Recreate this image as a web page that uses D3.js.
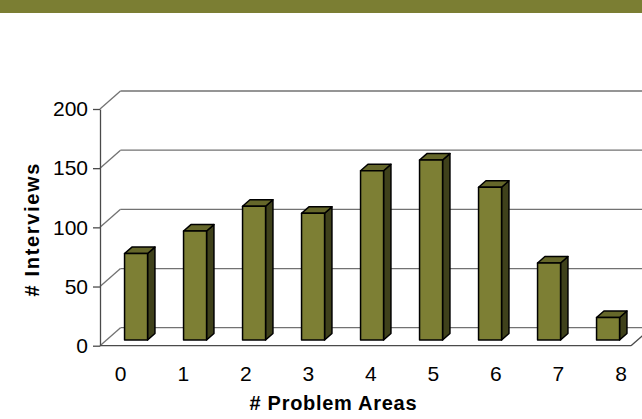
<!DOCTYPE html>
<html>
<head>
<meta charset="utf-8">
<script src="https://cdn.jsdelivr.net/npm/d3@7/dist/d3.min.js"></script>
<style>
  html, body { margin: 0; padding: 0; background: #ffffff; }
  svg { display: block; }
  text { font-family: "Liberation Sans", Arial, sans-serif; fill: #000; }
</style>
</head>
<body>
<svg id="chart" width="642" height="419"></svg>
<script>
// Number of problem areas reported per interview, and how many interviews had each count
const categories = ["0", "1", "2", "3", "4", "5", "6", "7", "8"];
const interviews = [73, 92, 113, 107, 143, 152, 129, 65, 19];
const yTicks = [0, 50, 100, 150, 200];
const xTitle = "# Problem Areas";
const yTitle = "# Interviews";

const W = 642, H = 419;
const svg = d3.select("#chart");

// Header band
svg.append("rect").attr("x", 0).attr("y", 0).attr("width", W).attr("height", 13)
  .attr("fill", "#7b7e33");

// Oblique projection: a point at depth f (0 = front, 1 = back wall) shifts by f*(DX, DY)
const DX = 20.5, DY = -18;
const x = d3.scaleBand().domain(categories).range([100, 631]).padding(0);
const y = d3.scaleLinear().domain([0, 200]).range([345.7, 109]);
const labelX = d3.scalePoint().domain(categories).range([120.7, 621]);

const gridColor = "#727272";
const grid = svg.append("g").attr("fill", "none").attr("stroke", gridColor).attr("stroke-width", 1.3);

// Back-wall gridlines and side-wall diagonals
yTicks.forEach(t => {
  const yb = y(t) + DY;
  grid.append("line").attr("x1", 100 + DX).attr("y1", yb).attr("x2", W + 2).attr("y2", yb);
  grid.append("line").attr("x1", 100).attr("y1", y(t)).attr("x2", 100 + DX).attr("y2", yb);
});

// Floor outline: front edge and right-hand diagonal
grid.append("line").attr("x1", 100).attr("y1", y(0)).attr("x2", 631).attr("y2", y(0))
  .attr("stroke", "#4a4a4a");
grid.append("line").attr("x1", 631).attr("y1", y(0)).attr("x2", 631 + DX).attr("y2", y(0) + DY)
  .attr("stroke", "#4a4a4a");

// Front value axis
const yAxis = svg.append("g").attr("transform", "translate(100,0)")
  .call(d3.axisLeft(y).tickValues(yTicks).tickSize(7).tickSizeOuter(0).tickPadding(5));
yAxis.select(".domain").attr("stroke", "#4a4a4a").attr("stroke-width", 1.3);
yAxis.selectAll(".tick line").attr("stroke", "#4a4a4a").attr("stroke-width", 1.3);
yAxis.selectAll(".tick text").style("font-size", "21px")
  .style("font-family", "'Liberation Sans', Arial, sans-serif").attr("fill", "#000");

// 3D bars
const f0 = 0.32, bd = 0.36;
const barW = x.bandwidth() * 0.39;
const bars = svg.append("g").attr("stroke", "#000").attr("stroke-width", 1.5)
  .attr("stroke-linejoin", "round");

categories.forEach((c, i) => {
  const v = interviews[i];
  const x0 = x(c) + (x.bandwidth() - barW) / 2 + f0 * DX;
  const x1 = x0 + barW;
  const yT = y(v) + f0 * DY;
  const yB = y(0) + f0 * DY;
  const ox = bd * DX, oy = bd * DY;
  const g = bars.append("g");
  g.append("polygon")
    .attr("points", [[x1, yT], [x1 + ox, yT + oy], [x1 + ox, yB + oy], [x1, yB]].join(" "))
    .attr("fill", "#3f411b");
  g.append("polygon")
    .attr("points", [[x0, yT], [x1, yT], [x1 + ox, yT + oy], [x0 + ox, yT + oy]].join(" "))
    .attr("fill", "#65672a");
  g.append("rect").attr("x", x0).attr("y", yT).attr("width", barW).attr("height", yB - yT)
    .attr("fill", "#7d7f34");
});

// Category labels
svg.append("g").selectAll("text").data(categories).join("text")
  .attr("x", d => labelX(d)).attr("y", 381)
  .attr("text-anchor", "middle").style("font-size", "21px")
  .text(d => d);

// Axis titles
svg.append("text").attr("x", 333).attr("y", 410).attr("text-anchor", "middle")
  .style("font-size", "20px").style("font-weight", "bold")
  .attr("textLength", 167).attr("lengthAdjust", "spacing")
  .text(xTitle);

svg.append("text").attr("transform", "translate(38.5,230) rotate(-90)")
  .attr("text-anchor", "middle")
  .style("font-size", "20px").style("font-weight", "bold")
  .attr("textLength", 133).attr("lengthAdjust", "spacing")
  .text(yTitle);
</script>
</body>
</html>
